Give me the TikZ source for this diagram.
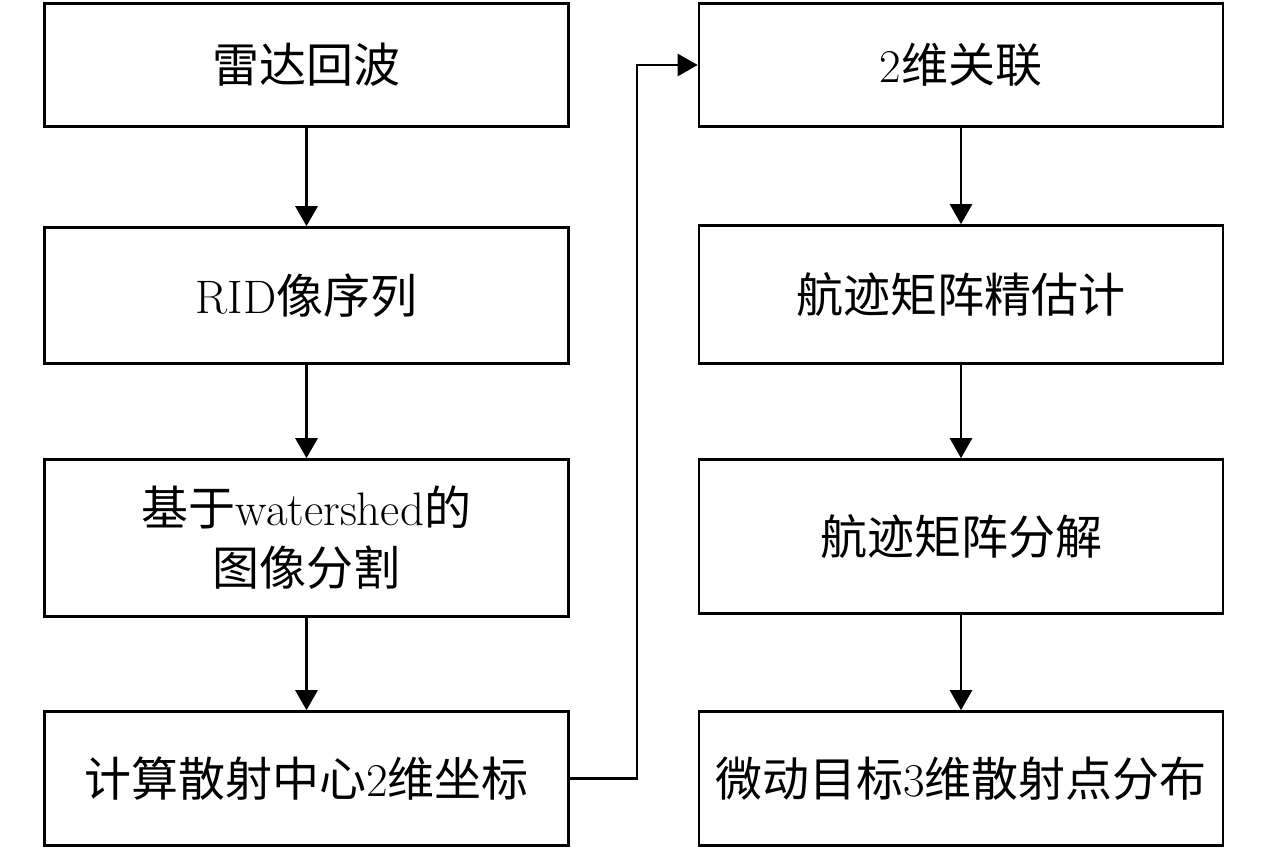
\documentclass[tikz,border=0pt]{standalone}
\usepackage{fontspec}
\usepackage{tikz}
\usetikzlibrary {arrows.meta,positioning}
\newfontfamily\cjk{Noto Sans CJK SC}
\newcommand{\zh}[1]{{\cjk #1}}

\begin{document}
\begin{tikzpicture}[x=0.5pt, y=-0.5pt, line width=1.3pt,
  font=\fontsize{23.5}{30}\selectfont,
  box/.style={draw, minimum width=262pt, inner sep=2pt},
  arr/.style={-{Triangle[length=10pt,width=11pt]}}]

\useasboundingbox (0,0) rectangle (1280,850);

\node (l1) at (306.5,65) [box, minimum height=61.5pt]{\zh{雷达回波}};
\node (l2) at (306.5,295.5) [box, minimum height=68pt]{RID\zh{像序列}};
\node (l3) at (306.5,538) [box, minimum height=78.5pt, align=center]{\zh{基于}watershed\zh{的}\\\zh{图像分割}};
\node (l4) at (306.5,778.5) [box, minimum height=67pt]{\zh{计算散射中心}2\zh{维坐标}};

\node (r1) at (961,65) [box, minimum height=61.5pt]{2\zh{维关联}};
\node (r2) at (961,294.5) [box, minimum height=69pt]{\zh{航迹矩阵精估计}};
\node (r3) at (961,536.5) [box, minimum height=77pt]{\zh{航迹矩阵分解}};
\node (r4) at (961,778.5) [box, minimum height=67pt]{\zh{微动目标}3\zh{维散射点分布}};

\coordinate (bend) at (637,65);

\draw[arr] (l1) -- (l2);
\draw[arr] (l2) -- (l3);
\draw[arr] (l3) -- (l4);
\draw[arr] (l4.east) -- (l4.east -| bend) -- (bend) -- (r1.west);
\draw[arr] (r1) -- (r2);
\draw[arr] (r2) -- (r3);
\draw[arr] (r3) -- (r4);

\end{tikzpicture}
\end{document}
